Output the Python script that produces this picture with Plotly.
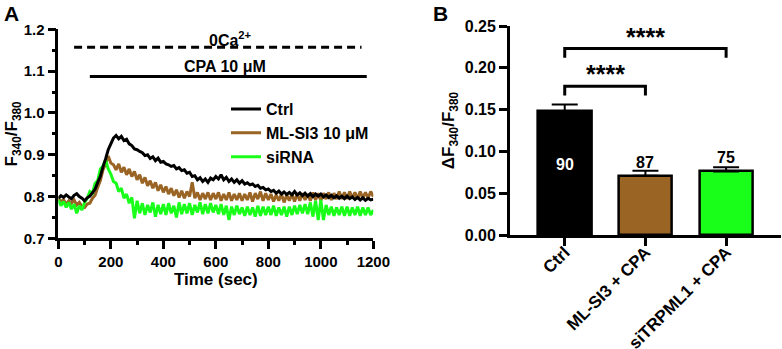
import plotly.graph_objects as go

# ---------- Panel A data (time course, sampled every 10 s) ----------
time_s = list(range(0, 1201, 10))

ctrl = [0.796, 0.802, 0.798, 0.804, 0.799, 0.795, 0.803, 0.807, 0.800, 0.796,
        0.790, 0.797, 0.801, 0.809, 0.818, 0.834, 0.848, 0.871, 0.890, 0.912,
        0.926, 0.940, 0.946, 0.938, 0.944, 0.934, 0.937, 0.926, 0.922, 0.914,
        0.912, 0.908, 0.905, 0.898, 0.900, 0.891, 0.895, 0.886, 0.892, 0.882,
        0.884, 0.878, 0.876, 0.872, 0.874, 0.866, 0.869, 0.862, 0.864, 0.856,
        0.858, 0.848, 0.850, 0.840, 0.845, 0.836, 0.842, 0.834, 0.844, 0.840,
        0.848, 0.842, 0.852, 0.840, 0.846, 0.836, 0.842, 0.834, 0.840, 0.832,
        0.838, 0.830, 0.833, 0.828, 0.830, 0.824, 0.827, 0.820, 0.822, 0.816,
        0.818, 0.812, 0.815, 0.808, 0.813, 0.806, 0.811, 0.805, 0.810, 0.804,
        0.812, 0.804, 0.809, 0.802, 0.808, 0.801, 0.807, 0.800, 0.806, 0.801,
        0.806, 0.799, 0.804, 0.798, 0.803, 0.797, 0.802, 0.796, 0.801, 0.795,
        0.801, 0.795, 0.799, 0.793, 0.798, 0.792, 0.797, 0.791, 0.796, 0.792,
        0.794]

mlsi3 = [0.796, 0.788, 0.792, 0.782, 0.790, 0.784, 0.792, 0.780, 0.786, 0.776,
         0.774, 0.782, 0.784, 0.796, 0.803, 0.822, 0.838, 0.864, 0.878, 0.897,
         0.880, 0.876, 0.864, 0.878, 0.858, 0.870, 0.852, 0.866, 0.848, 0.860,
         0.840, 0.852, 0.832, 0.846, 0.826, 0.838, 0.820, 0.834, 0.814, 0.828,
         0.810, 0.824, 0.806, 0.820, 0.802, 0.816, 0.798, 0.814, 0.796, 0.812,
         0.800, 0.834, 0.796, 0.810, 0.792, 0.808, 0.794, 0.810, 0.792, 0.808,
         0.794, 0.810, 0.790, 0.806, 0.792, 0.810, 0.790, 0.806, 0.792, 0.808,
         0.790, 0.806, 0.792, 0.810, 0.788, 0.808, 0.794, 0.812, 0.790, 0.808,
         0.792, 0.806, 0.788, 0.804, 0.790, 0.806, 0.786, 0.804, 0.790, 0.806,
         0.788, 0.806, 0.790, 0.808, 0.792, 0.806, 0.790, 0.810, 0.792, 0.808,
         0.790, 0.808, 0.794, 0.810, 0.792, 0.808, 0.794, 0.812, 0.794, 0.810,
         0.794, 0.812, 0.796, 0.810, 0.794, 0.812, 0.796, 0.810, 0.796, 0.812,
         0.800]

sirna = [0.792, 0.778, 0.788, 0.774, 0.786, 0.770, 0.782, 0.760, 0.778, 0.768,
         0.786, 0.796, 0.812, 0.808, 0.832, 0.838, 0.866, 0.872, 0.888, 0.866,
         0.854, 0.836, 0.832, 0.812, 0.820, 0.796, 0.806, 0.784, 0.798, 0.748,
         0.790, 0.760, 0.784, 0.756, 0.780, 0.762, 0.786, 0.752, 0.780, 0.758,
         0.782, 0.756, 0.784, 0.760, 0.778, 0.750, 0.786, 0.758, 0.782, 0.760,
         0.784, 0.756, 0.780, 0.762, 0.786, 0.758, 0.782, 0.760, 0.784, 0.762,
         0.780, 0.758, 0.782, 0.756, 0.778, 0.744, 0.776, 0.756, 0.778, 0.758,
         0.774, 0.754, 0.776, 0.756, 0.774, 0.752, 0.778, 0.754, 0.776, 0.756,
         0.776, 0.756, 0.778, 0.754, 0.774, 0.756, 0.776, 0.752, 0.776, 0.756,
         0.778, 0.758, 0.780, 0.760, 0.782, 0.758, 0.786, 0.752, 0.790, 0.744,
         0.792, 0.744, 0.780, 0.756, 0.776, 0.754, 0.774, 0.756, 0.776, 0.754,
         0.776, 0.754, 0.774, 0.756, 0.776, 0.754, 0.774, 0.756, 0.774, 0.756,
         0.768]

# treatment bars (start, end, level)
ca_free = [60, 1155, 1.157]
cpa = [120, 1175, 1.087]

# ---------- Panel B data ----------
groups = ["Ctrl", "ML-SI3 + CPA", "siTRPML1 + CPA"]
means = [0.148, 0.071, 0.076]
sems = [0.008, 0.006, 0.005]
n_cells = ["90", "87", "75"]
n_y = [0.084, 0.087, 0.093]

BLACK = "#000000"
BROWN = "#996424"
GREEN = "#1AFF1A"
FONT = "Liberation Sans, Arial, sans-serif"

fig = go.Figure()

# Panel A traces
fig.add_trace(go.Scatter(x=time_s, y=mlsi3, mode="lines", name="ML-SI3 10 μM",
                         line=dict(color=BROWN, width=3, simplify=False), legendrank=2))
fig.add_trace(go.Scatter(x=time_s, y=sirna, mode="lines", name="siRNA",
                         line=dict(color=GREEN, width=3, simplify=False), legendrank=3))
fig.add_trace(go.Scatter(x=time_s, y=ctrl, mode="lines", name="Ctrl",
                         line=dict(color=BLACK, width=3, simplify=False), legendrank=1))

# Panel B bars
fig.add_trace(go.Bar(x=groups, y=means, xaxis="x2", yaxis="y2", width=0.66,
                     marker=dict(color=[BLACK, BROWN, GREEN],
                                 line=dict(color=BLACK, width=2.5)),
                     error_y=dict(type="data", array=sems, arrayminus=[0, 0, 0],
                                  symmetric=False, color=BLACK, thickness=2, width=13),
                     showlegend=False))

axis_common = dict(showline=True, linecolor=BLACK, linewidth=2.5, ticks="outside",
                   tickwidth=2.5, tickcolor=BLACK, ticklen=8, showgrid=False,
                   zeroline=False, mirror=False, automargin=False)

fig.update_layout(
    template="none",
    width=782, height=349, autosize=False,
    margin=dict(l=0, r=0, t=0, b=0, pad=0),
    paper_bgcolor="white", plot_bgcolor="white",
    font=dict(family=FONT, size=16, color=BLACK, weight="bold"),
    xaxis=dict(domain=[0.0746, 0.4774], range=[0, 1200], tickvals=list(range(0, 1201, 200)),
               tickfont=dict(size=15, weight="bold"),
               minor=dict(dtick=100, ticklen=4, tickwidth=2.5, tickcolor=BLACK, ticks="outside"),
               title=dict(text="Time (sec)", font=dict(size=17, weight="bold"), standoff=4),
               **axis_common),
    yaxis=dict(domain=[0.317, 0.916], range=[0.7, 1.2], dtick=0.1, tickformat=".1f",
               tickfont=dict(size=15, weight="bold"),
               minor=dict(dtick=0.05, ticklen=4, tickwidth=2.5, tickcolor=BLACK, ticks="outside"),
               title=dict(text="F<sub>340</sub>/F<sub>380</sub>", font=dict(size=17, weight="bold"),
                          standoff=2),
               **axis_common),
    xaxis2=dict(domain=[0.652, 0.9987], range=[-0.68, 2.68], anchor="y2", tickangle=-45,
                tickfont=dict(size=17, weight="bold"), ticklabelstandoff=-10, **axis_common),
    yaxis2=dict(domain=[0.3266, 0.9255], range=[0, 0.25], dtick=0.05, tickformat=".2f",
                anchor="x2", tickfont=dict(size=16, weight="bold"),
                title=dict(text="ΔF<sub>340</sub>/F<sub>380</sub>", font=dict(size=17, weight="bold"),
                           standoff=6),
                **axis_common),
    legend=dict(x=0.289, y=0.736, xanchor="left", yanchor="top",
                bgcolor="rgba(0,0,0,0)",
                font=dict(size=16, weight="bold"), itemwidth=30, tracegroupgap=0),
    bargap=0,
)

shapes = []
# treatment lines in panel A
shapes.append(dict(type="line", xref="x", yref="y", x0=ca_free[0], x1=ca_free[1],
                   y0=ca_free[2], y1=ca_free[2], line=dict(color=BLACK, width=3, dash="8px,5px")))
shapes.append(dict(type="line", xref="x", yref="y", x0=cpa[0], x1=cpa[1],
                   y0=cpa[2], y1=cpa[2], line=dict(color=BLACK, width=3)))
# significance brackets in panel B
brackets = [(0, 1, 0.178, 0.167), (0, 2, 0.223, 0.212)]
for a, b, top, leg in brackets:
    shapes.append(dict(type="path", xref="x2", yref="y2",
                       path=f"M {a},{leg} L {a},{top} L {b},{top} L {b},{leg}",
                       line=dict(color=BLACK, width=3)))
fig.update_layout(shapes=shapes)

annotations = [
    dict(text="A", xref="paper", yref="paper", x=0.003, y=1.0, xanchor="left", yanchor="top",
         showarrow=False, font=dict(size=21, weight="bold")),
    dict(text="B", xref="paper", yref="paper", x=0.551, y=1.0, xanchor="left", yanchor="top",
         showarrow=False, font=dict(size=21, weight="bold")),
    dict(text="0Ca<sup>2+</sup>", xref="x", yref="y", x=654, y=1.178, showarrow=False,
         font=dict(size=16, weight="bold")),
    dict(text="CPA 10 μM", xref="x", yref="y", x=635, y=1.11, showarrow=False,
         font=dict(size=16, weight="bold")),
    dict(text="****", xref="x2", yref="y2", x=0.5, y=0.192, showarrow=False,
         font=dict(size=25, weight="bold")),
    dict(text="****", xref="x2", yref="y2", x=1.0, y=0.237, showarrow=False,
         font=dict(size=25, weight="bold")),
]
for g, t, yv in zip(groups, n_cells, n_y):
    annotations.append(dict(text=t, xref="x2", yref="y2", x=g, y=yv, showarrow=False,
                            font=dict(size=16, weight="bold",
                                      color="white" if g == "Ctrl" else BLACK)))
fig.update_layout(annotations=annotations)

fig.write_html("out.html", config={"displayModeBar": False},
               post_script="document.body.style.margin='0';document.body.style.padding='0';")
